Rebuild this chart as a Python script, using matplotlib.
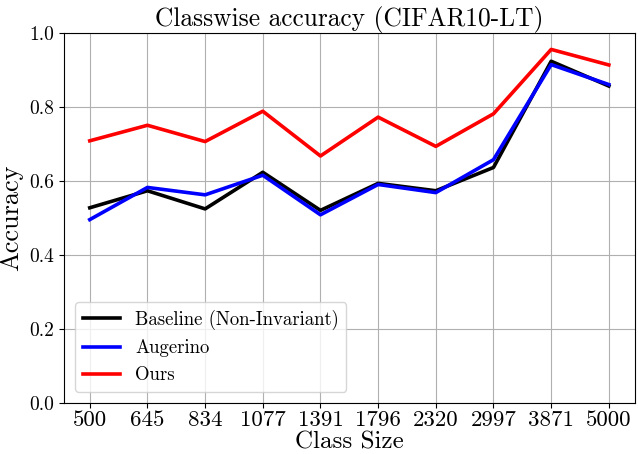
import matplotlib
matplotlib.use('Agg')
import matplotlib.pyplot as plt

# class sizes (categorical x axis)
class_sizes = ['500', '645', '834', '1077', '1391', '1796', '2320', '2997', '3871', '5000']

# accuracy per class
baseline = [0.528, 0.574, 0.525, 0.624, 0.521, 0.594, 0.574, 0.637, 0.924, 0.857]
augerino = [0.496, 0.583, 0.563, 0.616, 0.509, 0.591, 0.569, 0.658, 0.915, 0.861]
ours = [0.709, 0.751, 0.707, 0.789, 0.668, 0.773, 0.694, 0.782, 0.956, 0.914]

plt.rcParams['font.family'] = 'serif'
plt.rcParams['font.serif'] = ['cmr10']
plt.rcParams['mathtext.fontset'] = 'cm'
plt.rcParams['axes.formatter.use_mathtext'] = True
plt.rcParams['axes.unicode_minus'] = False

fig, ax = plt.subplots(figsize=(6.38, 4.54), dpi=100)
fig.subplots_adjust(left=0.100, right=0.995, top=0.927, bottom=0.112)

x = list(range(len(class_sizes)))
ax.plot(x, baseline, color='black', lw=2.6, label='Baseline (Non-Invariant)')
ax.plot(x, augerino, color='blue', lw=2.6, label='Augerino')
ax.plot(x, ours, color='red', lw=2.6, label='Ours')

ax.set_ylim(0, 1.0)
ax.set_xticks(x)
ax.set_xticklabels(class_sizes, fontsize=16.5)
ax.tick_params(axis='x', pad=2)
ax.set_yticks([0.0, 0.2, 0.4, 0.6, 0.8, 1.0])
ax.set_yticklabels(['0.0', '0.2', '0.4', '0.6', '0.8', '1.0'], fontsize=14)
ax.grid(True, color='#b0b0b0', lw=0.8)
ax.set_axisbelow(True)

ax.set_xlabel('Class Size', fontsize=18, labelpad=1)
ax.set_ylabel('Accuracy', fontsize=19, labelpad=4)
ax.set_title('Classwise accuracy (CIFAR10-LT)', fontsize=18.3, pad=4)

ax.legend(loc='lower left', fontsize=13.5, handlelength=2.0, borderaxespad=0.6)

plt.savefig('out.png', dpi=100)
